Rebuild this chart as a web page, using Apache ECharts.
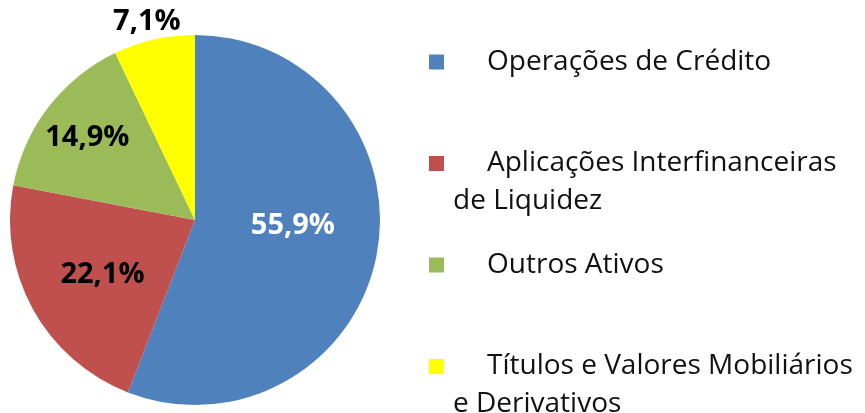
<!DOCTYPE html>
<html>
<head>
<meta charset="utf-8">
<script src="https://cdn.jsdelivr.net/npm/echarts@6/dist/echarts.min.js"></script>
<style>
    html, body { margin: 0; padding: 0; background: #fff; }
    #assetMixChart { width: 865px; height: 413px; }
</style>
</head>
<body>
<div id="assetMixChart"></div>
<script>
// composição do ativo (%)
const categories = [
    "Operações de Crédito",
    "Aplicações Interfinanceiras de Liquidez",
    "Outros Ativos",
    "Títulos e Valores Mobiliários e Derivativos",
];
const legendLines = [
    ["Operações de Crédito"],
    ["Aplicações Interfinanceiras", "de Liquidez"],
    ["Outros Ativos"],
    ["Títulos e Valores Mobiliários", "e Derivativos"],
];
const shares = [55.9, 22.1, 14.9, 7.1];

const colors = ["#4f81bd", "#c0504d", "#9bbb59", "#ffff00"];
const labelColors = ["#fff", "#000", "#000", "#000"];
// nudge labels away from the default inside spot
const labelNudge = [[4, -12], [-9, 8], [-32, -24], [-27, -105]];

let chartDom = document.getElementById("assetMixChart");
let myChart = echarts.init(chartDom);

let chartOption = {
    backgroundColor: "#fff",
    animation: false,
    legend: {
        orient: "vertical",
        left: 429,
        top: 5,
        height: 600,
        padding: 0,
        itemGap: -12.5,
        itemWidth: 15,
        itemHeight: 15,
        icon: "rect",
        data: categories,
        formatter: (name) => {
            let lines = legendLines[categories.indexOf(name)];
            return "{ind| }" + lines[0] + "\n" + (lines[1] || " ");
        },
        textStyle: {
            fontFamily: "Open Sans",
            fontSize: 28,
            color: "#111",
            lineHeight: 38,
            padding: [38, 0, 0, 4],
            rich: {
                ind: { width: 34, lineHeight: 38, fontSize: 28 },
            },
        },
    },
    series: [
        {
            name: "Ativo",
            type: "pie",
            center: [195, 220],
            radius: 185,
            startAngle: 90,
            clockwise: true,
            label: {
                show: true,
                position: "inside",
                fontFamily: "Open Sans",
                fontWeight: "bold",
                fontSize: 29,
                formatter: (p) => p.value.toFixed(1).replace(".", ",") + "%",
            },
            labelLine: { show: false },
            labelLayout: (p) => ({
                dx: labelNudge[p.dataIndex][0],
                dy: labelNudge[p.dataIndex][1],
            }),
            emphasis: { disabled: true },
            data: categories.map((c, i) => ({
                name: c,
                value: shares[i],
                itemStyle: { color: colors[i] },
                label: { color: labelColors[i] },
            })),
        },
    ],
};

myChart.setOption(chartOption);
</script>
</body>
</html>
